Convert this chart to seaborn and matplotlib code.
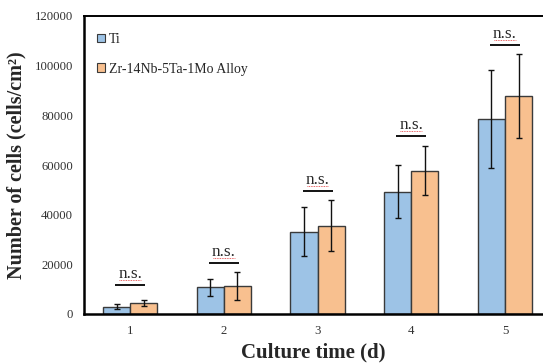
import matplotlib
matplotlib.use("Agg")
import matplotlib.pyplot as plt
import matplotlib.transforms as mtransforms
import pandas as pd
import seaborn as sns
from matplotlib.patches import Patch

# values
days = ["1", "2", "3", "4", "5"]
groups = ["Ti", "Zr-14Nb-5Ta-1Mo Alloy"]
ti_mean = [2900, 10750, 33100, 49300, 78500]
ti_err = [1000, 3500, 9800, 10500, 19600]
alloy_mean = [4300, 11300, 35600, 57700, 87800]
alloy_err = [1200, 5700, 10400, 9900, 16800]
ns_height = [11700, 20600, 49600, 71800, 108300]
ns_label = "n.s."
yticks = [0, 20000, 40000, 60000, 80000, 100000, 120000]

colors = ["#9dc3e6", "#f8c08f"]
serif = ["Liberation Serif", "DejaVu Serif"]

sns.set_theme(style="white")
plt.rcParams["font.family"] = serif

df = pd.DataFrame({
    "day": days * 2,
    "group": [groups[0]] * len(days) + [groups[1]] * len(days),
    "cells": ti_mean + alloy_mean,
})

fig = plt.figure(figsize=(5.43, 3.64), dpi=100)
ax = fig.add_axes([84 / 543, 50 / 364, 459 / 543, 298 / 364])

sns.barplot(data=df, x="day", y="cells", hue="group", order=days, hue_order=groups,
            palette=colors, saturation=1, width=0.58, edgecolor="#3a3a3a", linewidth=1.0,
            errorbar=None, legend=False, ax=ax)

# error bars on top of each bar
for cont, (means, errs) in zip(ax.containers, [(ti_mean, ti_err), (alloy_mean, alloy_err)]):
    xs = [b.get_x() + b.get_width() / 2 for b in cont]
    ax.errorbar(xs, means, yerr=errs, fmt="none", ecolor="#111111",
                elinewidth=1.0, capsize=2.2, capthick=1.0, zorder=5)

# "n.s." brackets
squiggle = ax.transData + mtransforms.ScaledTranslation(0, 3.4 / 72, fig.dpi_scale_trans)
for i, h in enumerate(ns_height):
    ax.plot([i - 0.16, i + 0.16], [h, h], color="black", lw=1.3, solid_capstyle="butt")
    ax.annotate(ns_label, (i, h), xytext=(0, 2), textcoords="offset points",
                ha="center", va="bottom", fontsize=12.4)
    # spell-check squiggle under the text
    ax.plot([i - 0.115, i + 0.115], [h, h], color="#e03030", lw=0.6, ls=(0, (1, 1)),
            transform=squiggle)

ax.set_xlim(-0.492, 4.406)
ax.set_ylim(0, 120000)
ax.set_yticks(yticks)
ax.set_yticklabels([str(t) for t in yticks])
ax.tick_params(axis="y", direction="out", length=4, width=1.2, pad=4, labelsize=9.2, colors="#333333")
ax.tick_params(axis="x", length=0, pad=8, labelsize=9.2, colors="#333333")

for side in ["left", "bottom"]:
    ax.spines[side].set_linewidth(1.8)
    ax.spines[side].set_color("black")
ax.spines["top"].set_linewidth(1.4)
ax.spines["top"].set_color("black")
ax.spines["right"].set_visible(False)

ax.set_xlabel("Culture time (d)", fontsize=15, fontweight="bold", labelpad=4)
ax.set_ylabel("Number of cells (cells/cm²)", fontsize=14.5, fontweight="bold", labelpad=6)

handles = [Patch(facecolor=c, edgecolor="#3a3a3a", lw=0.8) for c in colors]
ax.legend(handles, groups, loc="upper left", bbox_to_anchor=(0.0, 0.985), frameon=False,
          fontsize=10, handlelength=0.6, handleheight=0.6, handletextpad=0.3, labelspacing=1.2,
          borderaxespad=0.5)

fig.savefig("out.png", dpi=100)
